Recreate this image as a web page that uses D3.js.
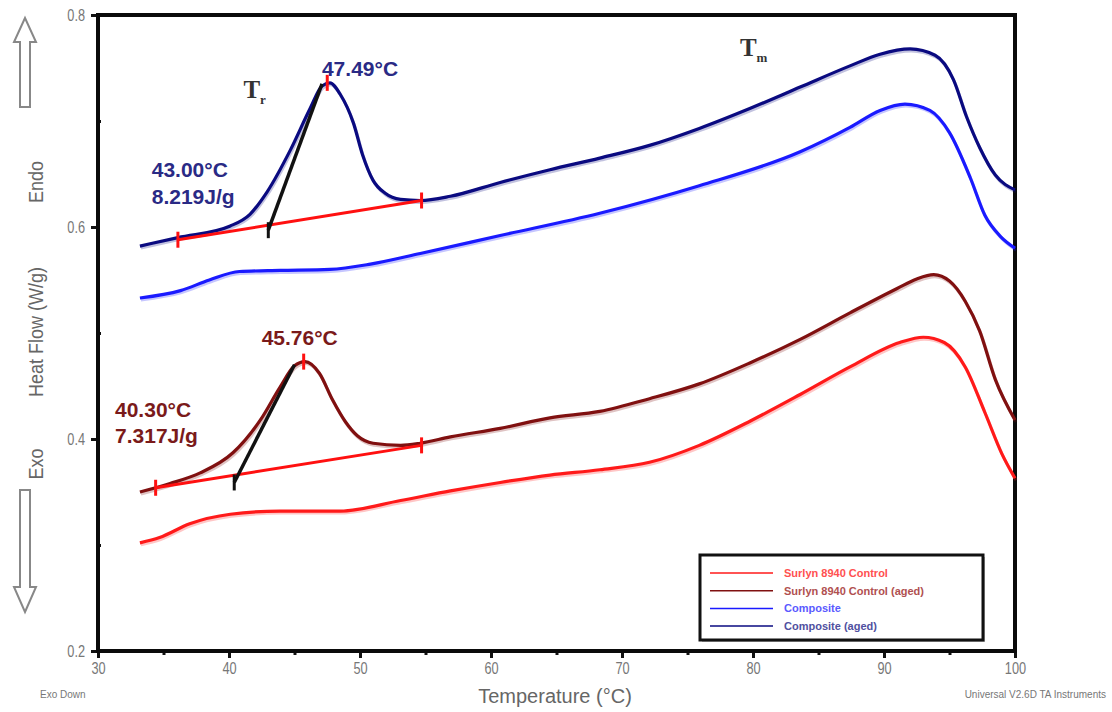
<!DOCTYPE html>
<meta charset="utf-8">
<style>
body { margin: 0; background: #fff; }
text { font-family: "Liberation Sans", Arial, sans-serif; }
.tick text { fill: #777; font-size: 17px; }
.ann { font-weight: bold; font-size: 21px; }
.leg { font-weight: bold; font-size: 11px; }
.serif { font-family: "Liberation Serif", "Times New Roman", serif; fill: #333; font-weight: bold; }
</style>
<svg id="chart" width="1112" height="712"></svg>
<script src="https://d3js.org/d3.v7.min.js"></script>
<script>

// temperatures (°C) and heat flow (W/g)
var compAgedT = [33.2, 36.1, 40.1, 41.6, 42.9, 44.7, 46.2, 47.1, 47.7, 48.5, 49.5, 50.2, 51.0, 51.9, 53.1, 54.6, 56.9, 60.7, 64.5, 68.3, 72.1, 75.9, 79.8, 83.6, 87.4, 89.7, 92.0, 93.9, 95.3, 96.3, 97.3, 98.5, 100];
var compAgedV = [0.582, 0.590, 0.601, 0.612, 0.633, 0.673, 0.712, 0.733, 0.736, 0.725, 0.698, 0.668, 0.644, 0.632, 0.626, 0.625, 0.629, 0.642, 0.654, 0.665, 0.677, 0.693, 0.712, 0.732, 0.752, 0.763, 0.768, 0.762, 0.739, 0.704, 0.675, 0.649, 0.635];

var compT = [33.2, 36.3, 38.5, 40.8, 43.9, 47.7, 50.8, 54.6, 60.7, 68.3, 75.9, 83.6, 87.4, 89.7, 91.6, 93.5, 95.0, 96.6, 97.7, 98.9, 100];
var compV = [0.533, 0.540, 0.550, 0.558, 0.559, 0.560, 0.565, 0.575, 0.592, 0.613, 0.639, 0.671, 0.694, 0.710, 0.716, 0.710, 0.689, 0.646, 0.611, 0.591, 0.580];

var ctrlAgedT = [33.2, 35.5, 37.8, 40.3, 42.4, 43.9, 45.0, 45.8, 46.9, 47.9, 48.9, 49.8, 51.0, 53.1, 54.6, 56.9, 60.7, 64.5, 68.3, 72.1, 75.9, 79.8, 83.6, 87.4, 91.0, 92.5, 93.8, 95.0, 96.2, 97.3, 98.5, 100];
var ctrlAgedV = [0.350, 0.358, 0.368, 0.387, 0.418, 0.449, 0.469, 0.473, 0.462, 0.437, 0.416, 0.403, 0.396, 0.394, 0.396, 0.402, 0.410, 0.420, 0.426, 0.438, 0.452, 0.472, 0.494, 0.519, 0.542, 0.551, 0.555, 0.549, 0.530, 0.502, 0.456, 0.418];

var ctrlT = [33.2, 34.7, 37.0, 40.1, 43.9, 48.5, 53.1, 56.9, 60.7, 64.5, 68.3, 72.1, 75.9, 79.8, 83.6, 87.4, 91.2, 93.0, 94.6, 96.2, 97.7, 99.0, 100];
var ctrlV = [0.302, 0.307, 0.320, 0.329, 0.332, 0.332, 0.342, 0.351, 0.359, 0.366, 0.371, 0.378, 0.394, 0.417, 0.442, 0.468, 0.491, 0.496, 0.491, 0.468, 0.425, 0.386, 0.363];

var seriesNames = ["Surlyn 8940 Control", "Surlyn 8940 Control (aged)", "Composite", "Composite (aged)"];
var seriesColors = ["#ff1a1a", "#801010", "#1a1aff", "#0a0a80"];
var legendTextColors = ["#ff5050", "#b05050", "#5a5aff", "#5050a0"];

var xTicks = [30, 40, 50, 60, 70, 80, 90, 100];
var xMinor = [35, 45, 55, 65, 75, 85, 95];
var yTicks = [0.2, 0.4, 0.6, 0.8];
var yMinor = [0.3, 0.5, 0.7];

// peak integration: baseline [T1,v1,T2,v2], tangent [T1,v1,T2,v2], peak [T,v]
var upperBase = [36.1, 0.588, 54.7, 0.625];
var upperTan = [43.0, 0.597, 47.1, 0.735];
var upperPeak = [47.5, 0.736];
var lowerBase = [34.4, 0.354, 54.7, 0.394];
var lowerTan = [40.4, 0.359, 45.0, 0.470];
var lowerPeak = [45.7, 0.473];

var svg = d3.select("svg"),
    margin = {top: 15, right: 97, bottom: 61, left: 98},
    width = +svg.attr("width") - margin.left - margin.right,
    height = +svg.attr("height") - margin.top - margin.bottom;

var x = d3.scaleLinear().domain([30, 100]).range([0, width]),
    y = d3.scaleLinear().domain([0.2, 0.8]).range([height, 0]);

var g = svg.append("g")
    .attr("transform", "translate(" + margin.left + "," + margin.top + ")");

// axes
var xa = g.append("g")
    .attr("transform", "translate(0," + height + ")")
    .call(d3.axisBottom(x).tickValues(xTicks).tickSize(7).tickPadding(4).tickFormat(d3.format("d")));
g.append("g")
    .attr("transform", "translate(0," + height + ")")
    .call(d3.axisBottom(x).tickValues(xMinor).tickSize(4).tickFormat(""));
var ya = g.append("g")
    .call(d3.axisLeft(y).tickValues(yTicks).tickSize(7).tickPadding(2).tickFormat(d3.format(".1f")));
g.append("g")
    .call(d3.axisRight(y).tickValues(yMinor).tickSize(3).tickFormat(""));
g.selectAll(".domain").remove();
g.selectAll(".tick line").attr("stroke", "#111").attr("stroke-width", 3);
// condensed tick labels like the instrument printout
xa.selectAll(".tick text").attr("transform", "scale(0.75,1)");
ya.selectAll(".tick text")
    .attr("dy", "0.35em")
    .attr("x", -13 / 0.75)
    .attr("transform", "scale(0.75,1)");

// frame
g.append("rect")
    .attr("x", 0).attr("y", 0)
    .attr("width", width).attr("height", height)
    .attr("fill", "none")
    .attr("stroke", "#0a0a0a")
    .attr("stroke-width", 4);

var line = d3.line()
    .x(function(d) { return x(d[0]); })
    .y(function(d) { return y(d[1]); })
    .curve(d3.curveMonotoneX);

var series = [
  d3.zip(ctrlT, ctrlV),
  d3.zip(ctrlAgedT, ctrlAgedV),
  d3.zip(compT, compV),
  d3.zip(compAgedT, compAgedV)
];

series.forEach(function(s, i) {
  g.append("path")
      .attr("d", line(s))
      .attr("transform", "translate(1,2)")
      .attr("fill", "none")
      .attr("stroke", seriesColors[i])
      .attr("stroke-opacity", 0.25)
      .attr("stroke-width", 3);
  g.append("path")
      .attr("d", line(s))
      .attr("fill", "none")
      .attr("stroke", seriesColors[i])
      .attr("stroke-width", 3.2);
});

function seg(a, color, w) {
  g.append("line")
      .attr("x1", x(a[0])).attr("y1", y(a[1]))
      .attr("x2", x(a[2])).attr("y2", y(a[3]))
      .attr("stroke", color).attr("stroke-width", w);
}
function mark(t, v, color) {
  g.append("line")
      .attr("x1", x(t)).attr("x2", x(t))
      .attr("y1", y(v) - 8).attr("y2", y(v) + 8)
      .attr("stroke", color).attr("stroke-width", 3);
}

[[upperBase, upperTan, upperPeak], [lowerBase, lowerTan, lowerPeak]].forEach(function(p) {
  seg(p[0], "#ff1010", 3);
  mark(p[0][0], p[0][1], "#ff1010");
  mark(p[0][2], p[0][3], "#ff1010");
  seg(p[1], "#111", 3.5);
  mark(p[1][0], p[1][1], "#111");
  mark(p[2][0], p[2][1], "#ff1010");
});

// annotations
function ann(t, v, txt, color, anchor) {
  g.append("text").attr("class", "ann")
      .attr("x", x(t)).attr("y", y(v))
      .attr("text-anchor", anchor || "start")
      .attr("fill", color)
      .text(txt);
}
ann(50.0, 0.742, "47.49°C", "#2a2a85", "middle");
ann(34.1, 0.647, "43.00°C", "#2a2a85");
ann(34.1, 0.622, "8.219J/g", "#2a2a85");
ann(45.4, 0.489, "45.76°C", "#7a1a1a", "middle");
ann(31.3, 0.421, "40.30°C", "#7a1a1a");
ann(31.3, 0.396, "7.317J/g", "#7a1a1a");

function sym(t, v, main, sub) {
  var tx = g.append("text").attr("class", "serif")
      .attr("x", x(t)).attr("y", y(v))
      .attr("font-size", 25);
  tx.append("tspan").text(main);
  tx.append("tspan").attr("font-size", 13).attr("dy", 6).text(sub);
}
sym(41.1, 0.722, "T", "r");
sym(79.0, 0.761, "T", "m");

// legend
var leg = g.append("g").attr("transform", "translate(" + (700 - margin.left) + "," + (555 - margin.top) + ")");
leg.append("rect")
    .attr("x", 2).attr("y", 2).attr("width", 283).attr("height", 85)
    .attr("fill", "#bbb");
leg.append("rect")
    .attr("width", 283).attr("height", 85)
    .attr("fill", "#fff").attr("stroke", "#111").attr("stroke-width", 3);
seriesNames.forEach(function(n, i) {
  var yy = 18 + i * 17.7;
  leg.append("line")
      .attr("x1", 10).attr("x2", 73).attr("y1", yy).attr("y2", yy)
      .attr("stroke", seriesColors[i]).attr("stroke-width", 1.5);
  leg.append("text").attr("class", "leg")
      .attr("x", 84).attr("y", yy + 4)
      .attr("fill", legendTextColors[i])
      .text(n);
});

// axis titles and side marks
function vlabel(cy, txt) {
  svg.append("text")
      .attr("transform", "translate(43," + cy + ") rotate(-90) scale(0.9,1)")
      .attr("text-anchor", "middle")
      .attr("fill", "#666").attr("font-size", 20)
      .text(txt);
}
vlabel(332, "Heat Flow (W/g)");
vlabel(182, "Endo");
vlabel(464, "Exo");

svg.append("path")
    .attr("d", "M25,18 L36,42 L30,42 L30,107 L20,107 L20,42 L14,42 Z")
    .attr("fill", "#fff").attr("stroke", "#888").attr("stroke-width", 2);
svg.append("path")
    .attr("d", "M25,612 L36,587 L30,587 L30,490 L20,490 L20,587 L14,587 Z")
    .attr("fill", "#fff").attr("stroke", "#888").attr("stroke-width", 2);

svg.append("text")
    .attr("x", 555).attr("y", 703)
    .attr("text-anchor", "middle")
    .attr("fill", "#666").attr("font-size", 20)
    .text("Temperature (°C)");
svg.append("text")
    .attr("x", 40).attr("y", 698)
    .attr("fill", "#777").attr("font-size", 10)
    .text("Exo Down");
svg.append("text")
    .attr("x", 1106).attr("y", 698)
    .attr("text-anchor", "end")
    .attr("fill", "#777").attr("font-size", 10)
    .text("Universal V2.6D TA Instruments");

</script>
